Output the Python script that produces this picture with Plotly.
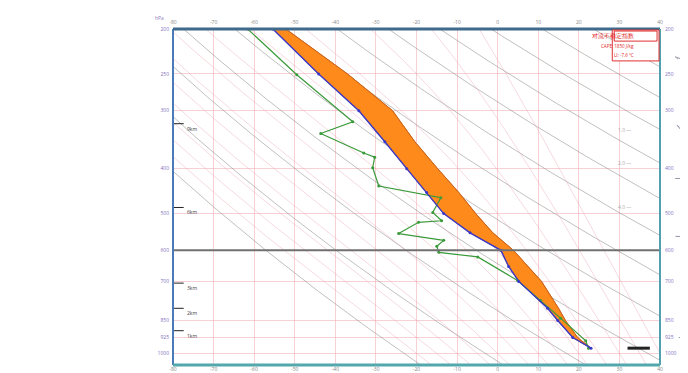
import numpy as np
import plotly.graph_objects as go

# ---------------- data ----------------
temp_ticks = list(range(-80, 41, 10))
pres_ticks = [200, 250, 300, 400, 500, 600, 700, 850, 925, 1000]

env_p = [975, 925, 850, 800, 700, 650, 600, 550, 500, 450, 400, 350, 300, 250, 200]
env_t = [23.0, 18.5, 14.8, 12.3, 5.2, 2.7, 0.8, -6.8, -13.3, -17.5, -22.4, -27.8, -34.2, -44.1, -55.4]
parcel_t = [23.0, 19.7, 16.7, 15.0, 10.8, 7.4, 3.9, -1.2, -5.4, -9.6, -14.8, -20.4, -25.9, -37.0, -52.2]

dew_p = [975, 940, 840, 770, 697, 620, 606, 588, 571, 552, 522, 518, 497, 462, 436, 398, 378, 370, 336, 317, 251, 200]
dew_t = [22.4, 21.7, 15.5, 10.6, 4.9, -4.9, -14.5, -15.0, -13.3, -24.4, -19.5, -13.8, -16.0, -14.0,
         -29.3, -30.8, -30.3, -33.0, -43.6, -35.7, -49.5, -61.6]

height_p = [894, 800, 706, 485, 320]
height_lbl = ["1km", "2km", "3km", "6km", "9km"]

mix_lbl_p = [485, 389, 330]
mix_lbl = ["4.0", "2.0", "1.0"]

wind_p = [190, 232, 330, 420, 560, 925]
wind_dir = [300, 290, 320, 250, 240, 200]      # degrees (from)

sfc_wind_p = 975
sfc_wind_t = [32.0, 37.5]

theta_list = list(range(250, 471, 20))          # dry adiabats (K)
moist_start = list(range(-20, 41, 5))           # moist adiabats, deg C at 1000 hPa
highlight_p = 600

legend_title = "对流不稳定指数"
legend_lines = ["CAPE: 1850 J/kg", "LI: -7.6 °C"]

# ---------------- helpers ----------------
P_BOT, P_TOP = 1060, 200
T_MIN, T_MAX = -80, 40
pp = np.exp(np.linspace(np.log(P_BOT), np.log(P_TOP), 120))

fig = go.Figure()

# dry adiabats
for th in theta_list:
    t = th * (pp / 1000.0) ** 0.2857 - 273.15
    fig.add_trace(go.Scatter(x=t, y=pp, mode="lines", line=dict(color="rgba(140,140,140,0.55)", width=1),
                             hoverinfo="skip", showlegend=False))

# moist adiabats
Rd, cp, Lv, eps = 287.04, 1005.7, 2.501e6, 0.622
def es(tc):
    return 6.112 * np.exp(17.67 * tc / (tc + 243.5))
def dtdp(p, T):
    e = es(T - 273.15); rs = eps * e / (p - e)
    return (Rd * T + Lv * rs) / (p * (cp + Lv * Lv * rs * eps / (Rd * T * T)))
for t0 in moist_start:
    ps = [1000.0]; ts = [t0 + 273.15]
    p = 1000.0; T = t0 + 273.15
    while p < P_BOT:
        T += dtdp(p, T) * 2.0; p += 2.0
        ps.insert(0, p); ts.insert(0, T)
    p = 1000.0; T = t0 + 273.15
    while p > P_TOP:
        T -= dtdp(p, T) * 2.0; p -= 2.0
        ps.append(p); ts.append(T)
    fig.add_trace(go.Scatter(x=np.array(ts) - 273.15, y=ps, mode="lines",
                             line=dict(color="rgba(235,160,175,0.4)", width=1),
                             hoverinfo="skip", showlegend=False))

# CAPE fill
fig.add_trace(go.Scatter(x=env_t + parcel_t[::-1], y=env_p + env_p[::-1], fill="toself",
                         fillcolor="#ff8a1c", line=dict(color="#e8741a", width=1),
                         mode="lines", hoverinfo="skip", showlegend=False))
fig.add_trace(go.Scatter(x=parcel_t, y=env_p, mode="lines", line=dict(color="#c8641e", width=1),
                         showlegend=False))
# dewpoint
fig.add_trace(go.Scatter(x=dew_t, y=dew_p, mode="lines+markers", line=dict(color="#3a9a3a", width=1.2),
                         marker=dict(size=3, color="#3a9a3a"), showlegend=False))
# temperature
fig.add_trace(go.Scatter(x=env_t, y=env_p, mode="lines+markers", line=dict(color="#3838c8", width=1.4),
                         marker=dict(size=3, color="#3838c8"), showlegend=False))

# highlighted level
fig.add_shape(type="line", xref="paper", x0=0, x1=1, yref="y", y0=highlight_p, y1=highlight_p,
              line=dict(color="#707070", width=2))

# height markers on the left
for hp, hl in zip(height_p, height_lbl):
    fig.add_shape(type="line", xref="paper", x0=0, x1=0.022, yref="y", y0=hp, y1=hp,
                  line=dict(color="#222", width=1))
    fig.add_annotation(xref="paper", x=0.024, yref="y", y=np.log10(hp), text=hl, showarrow=False,
                       xanchor="left", yanchor="top", font=dict(size=5, color="#444"))

# mixing-ratio labels near right edge
for mp, ml in zip(mix_lbl_p, mix_lbl):
    fig.add_annotation(xref="paper", x=0.945, yref="y", y=np.log10(mp), text=ml + " —", showarrow=False,
                       xanchor="right", font=dict(size=5, color="#aaaaaa"))

# wind barbs (outside right)
for wp, wd in zip(wind_p, wind_dir):
    ang = np.deg2rad(wd)
    dx, dy = 6 * np.sin(ang), 6 * np.cos(ang)
    fig.add_shape(type="line", xref="paper", xsizemode="pixel", xanchor=1.043, x0=0, x1=dx,
                  yref="y", ysizemode="pixel", yanchor=wp, y0=0, y1=dy,
                  line=dict(color="#9a9aaa", width=1))
    fig.add_shape(type="line", xref="paper", xsizemode="pixel", xanchor=1.043, x0=dx, x1=dx + 2.5,
                  yref="y", ysizemode="pixel", yanchor=wp, y0=dy, y1=dy - 2,
                  line=dict(color="#9a9aaa", width=1))

# surface wind mark
fig.add_shape(type="line", xref="x", x0=sfc_wind_t[0], x1=sfc_wind_t[1], yref="y", y0=sfc_wind_p, y1=sfc_wind_p,
              line=dict(color="#222", width=3))

# frame
fig.add_shape(type="line", xref="paper", yref="paper", x0=0, x1=0, y0=0, y1=1, line=dict(color="#4a7ab8", width=2))
fig.add_shape(type="line", xref="paper", yref="paper", x0=0, x1=1, y0=1, y1=1, line=dict(color="#3f6a8c", width=3))
fig.add_shape(type="line", xref="paper", yref="paper", x0=1, x1=1, y0=0, y1=1, line=dict(color="#52a0ae", width=2))
fig.add_shape(type="line", xref="paper", yref="paper", x0=0, x1=1, y0=0, y1=0, line=dict(color="#52a8ac", width=3))

# legend box
fig.add_shape(type="rect", xref="paper", yref="paper", x0=0.902, x1=0.998, y0=0.905, y1=0.997,
              line=dict(color="#e03030", width=1), fillcolor="white")
fig.add_shape(type="rect", xref="paper", yref="paper", x0=0.906, x1=0.994, y0=0.964, y1=0.994,
              line=dict(color="#e03030", width=1))
fig.add_annotation(xref="paper", yref="paper", x=0.95, y=0.979, yanchor="middle", text=legend_title,
                   showarrow=False, font=dict(size=5.5, color="#e02020"))
for i, ln in enumerate(legend_lines):
    fig.add_annotation(xref="paper", yref="paper", x=0.95, y=0.948 - i * 0.024, yanchor="middle", text=ln,
                       showarrow=False, font=dict(size=4.5, color="#e02020"))

fig.add_annotation(xref="paper", yref="paper", x=-0.014, y=1.018, text="hPa", showarrow=False,
                   xanchor="right", yanchor="bottom", font=dict(size=5, color="#9080c0"))

axis_common = dict(automargin=False, zeroline=False, ticks="", showline=False)
fig.update_layout(
    width=680, height=365,
    margin=dict(l=165, r=28, t=21, b=8, autoexpand=False),
    paper_bgcolor="white", plot_bgcolor="white",
    xaxis=dict(range=[T_MIN, T_MAX], tickvals=temp_ticks, ticktext=[str(v) for v in temp_ticks],
               showgrid=True, gridcolor="rgba(240,170,180,0.55)", gridwidth=1,
               tickfont=dict(size=5, color="#888"), **axis_common),
    xaxis2=dict(range=[T_MIN, T_MAX], tickvals=temp_ticks, ticktext=[str(v) for v in temp_ticks],
                overlaying="x", side="top", showgrid=False, ticklabelstandoff=3,
                tickfont=dict(size=5, color="#888"), **axis_common),
    yaxis=dict(type="log", range=[np.log10(P_BOT), np.log10(P_TOP)], tickvals=pres_ticks,
               ticktext=[str(v) for v in pres_ticks], showgrid=True, gridcolor="rgba(240,170,180,0.55)",
               tickfont=dict(size=5, color="#8070c0"), ticklabelstandoff=3, **axis_common),
    yaxis2=dict(type="log", range=[np.log10(P_BOT), np.log10(P_TOP)], tickvals=pres_ticks,
                ticktext=[str(v) for v in pres_ticks], overlaying="y", side="right", showgrid=False,
                tickfont=dict(size=5, color="#8070c0"), ticklabelstandoff=4, **axis_common),
    showlegend=False,
)
fig.add_trace(go.Scatter(x=[T_MIN], y=[P_BOT], xaxis="x2", yaxis="y2", mode="markers",
                         marker=dict(opacity=0), hoverinfo="skip", showlegend=False))

fig.write_html("out.html")
